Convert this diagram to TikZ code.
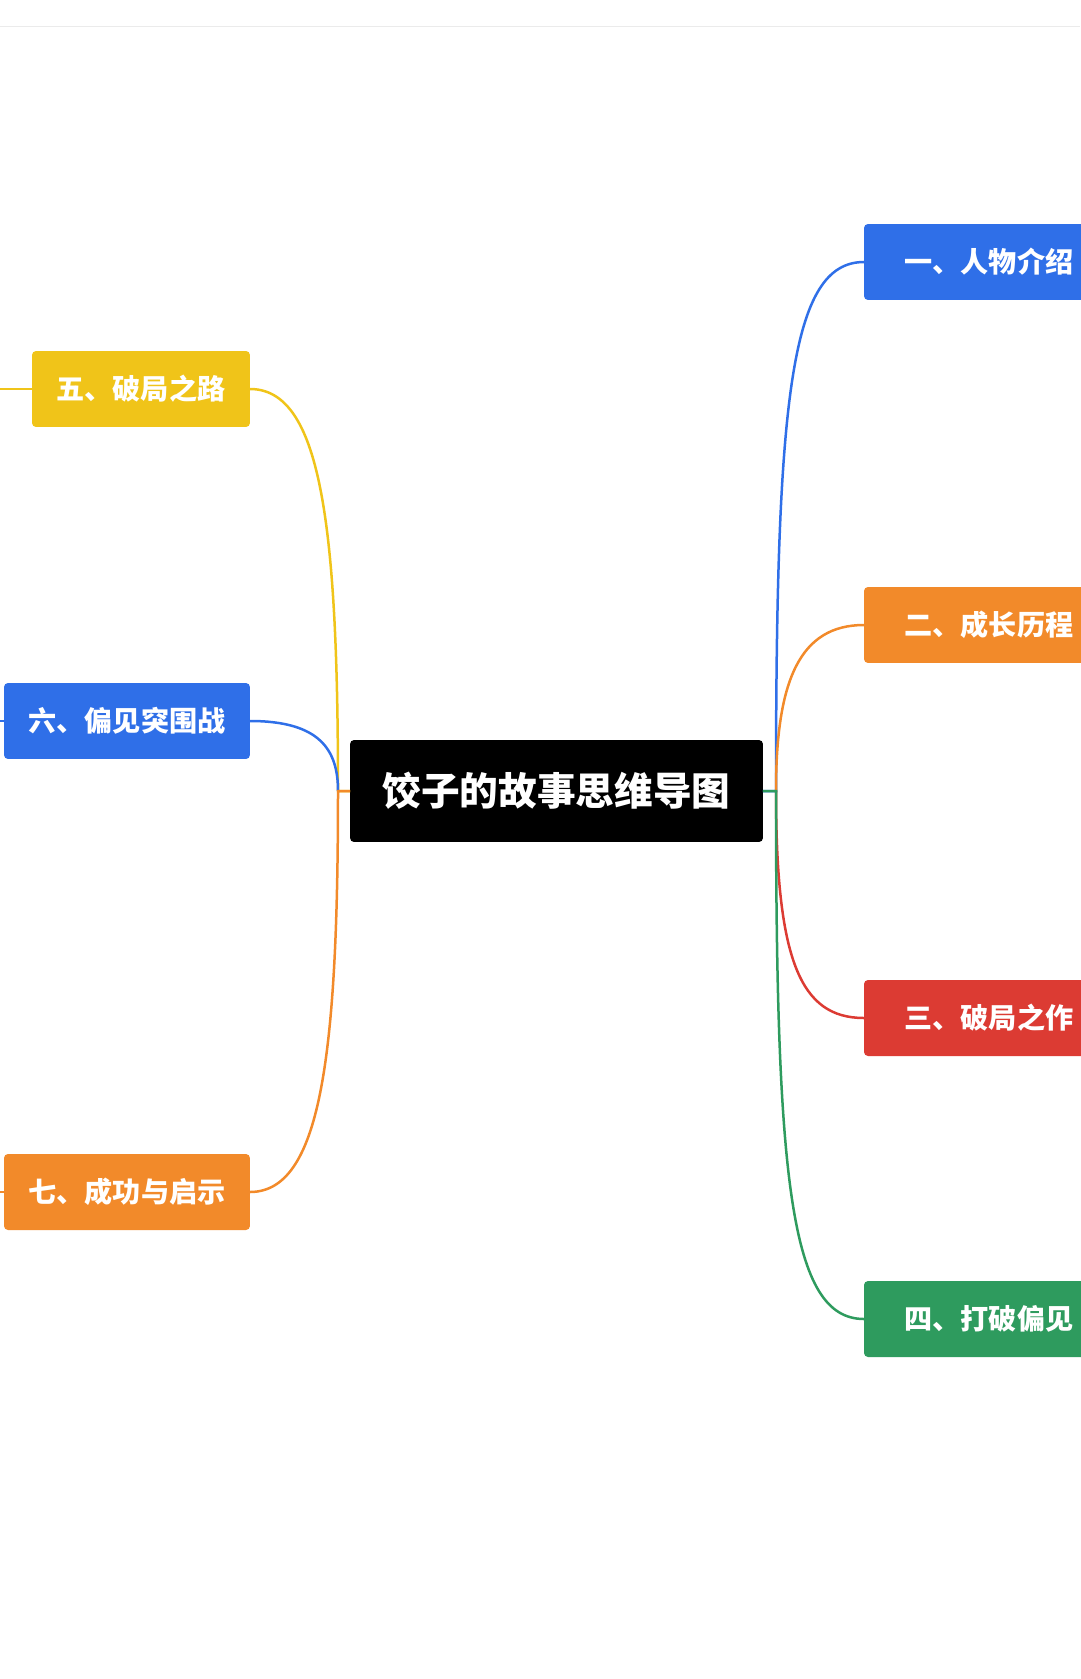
\documentclass[tikz,border=0pt]{standalone}
\usepackage{fontspec}
\setmainfont{Noto Sans CJK SC}
\definecolor{cblue}{RGB}{47,111,232}
\definecolor{corange}{RGB}{242,138,42}
\definecolor{cred}{RGB}{220,59,51}
\definecolor{cgreen}{RGB}{46,155,94}
\definecolor{cyellow}{RGB}{240,196,25}
\definecolor{cline}{RGB}{235,235,235}
\def \globalscale {0.020000}
\begin{document}
\begin{tikzpicture}[x=\globalscale cm, y=-\globalscale cm, inner sep=0pt, outer sep=0pt,
  topic/.style={rounded corners=0.08cm, text=white, font=\fontsize{16}{18}\selectfont\bfseries, minimum height=1.52cm, anchor=west},
  root/.style={fill=black, rounded corners=0.08cm, text=white, font=\fontsize{22}{24}\selectfont\bfseries, minimum width=8.26cm, minimum height=2.04cm},
  branch/.style={line width=0.05cm}]
  \useasboundingbox (0,0) rectangle (1080,1679);
  \path[draw=cline,line width=0.02cm] (0,27) -- (1080,27);

  \node[root] (center) at (556.5,791){饺子的故事思维导图};
  \coordinate (rjoint) at (776,791);
  \coordinate (ljoint) at (338,791);

  \node[topic,fill=cblue,minimum width=4.5cm] (t1) at (864,262){\hspace{0.5cm}一、人物介绍\hfill};
  \node[topic,fill=corange,minimum width=4.5cm] (t2) at (864,625){\hspace{0.5cm}二、成长历程\hfill};
  \node[topic,fill=cred,minimum width=4.5cm] (t3) at (864,1018){\hspace{0.5cm}三、破局之作\hfill};
  \node[topic,fill=cgreen,minimum width=4.5cm] (t4) at (864,1319){\hspace{0.5cm}四、打破偏见\hfill};

  \node[topic,fill=cyellow,minimum width=4.36cm] (t5) at (32,389){五、破局之路};
  \node[topic,fill=cblue,minimum width=4.92cm] (t6) at (4,721){六、偏见突围战};
  \node[topic,fill=corange,minimum width=4.92cm] (t7) at (4,1192){七、成功与启示};

  \coordinate (s5) at (0,389);
  \coordinate (s6) at (-10,721);
  \coordinate (s7) at (-10,1192);

  % right side
  \path[draw=cblue,branch] (center.east) -- (rjoint) .. controls (776,400) and (790,262) .. (t1.west);
  \path[draw=corange,branch] (rjoint) .. controls (776,680) and (800,625) .. (t2.west);
  \path[draw=cred,branch] (rjoint) .. controls (776,960) and (800,1018) .. (t3.west);
  \path[draw=cgreen,branch] (center.east) -- (rjoint) .. controls (776,1180) and (790,1319) .. (t4.west);

  % left side
  \path[draw=cyellow,branch] (center.west) -- (ljoint) .. controls (338,520) and (320,389) .. (t5.east);
  \path[draw=cblue,branch] (ljoint) .. controls (338,750) and (320,721) .. (t6.east);
  \path[draw=corange,branch] (center.west) -- (ljoint) .. controls (338,1060) and (320,1192) .. (t7.east);
  \path[draw=cyellow,branch] (t5.west) -- (s5);
  \path[draw=cblue,branch] (t6.west) -- (s6);
  \path[draw=corange,branch] (t7.west) -- (s7);
\end{tikzpicture}
\end{document}
